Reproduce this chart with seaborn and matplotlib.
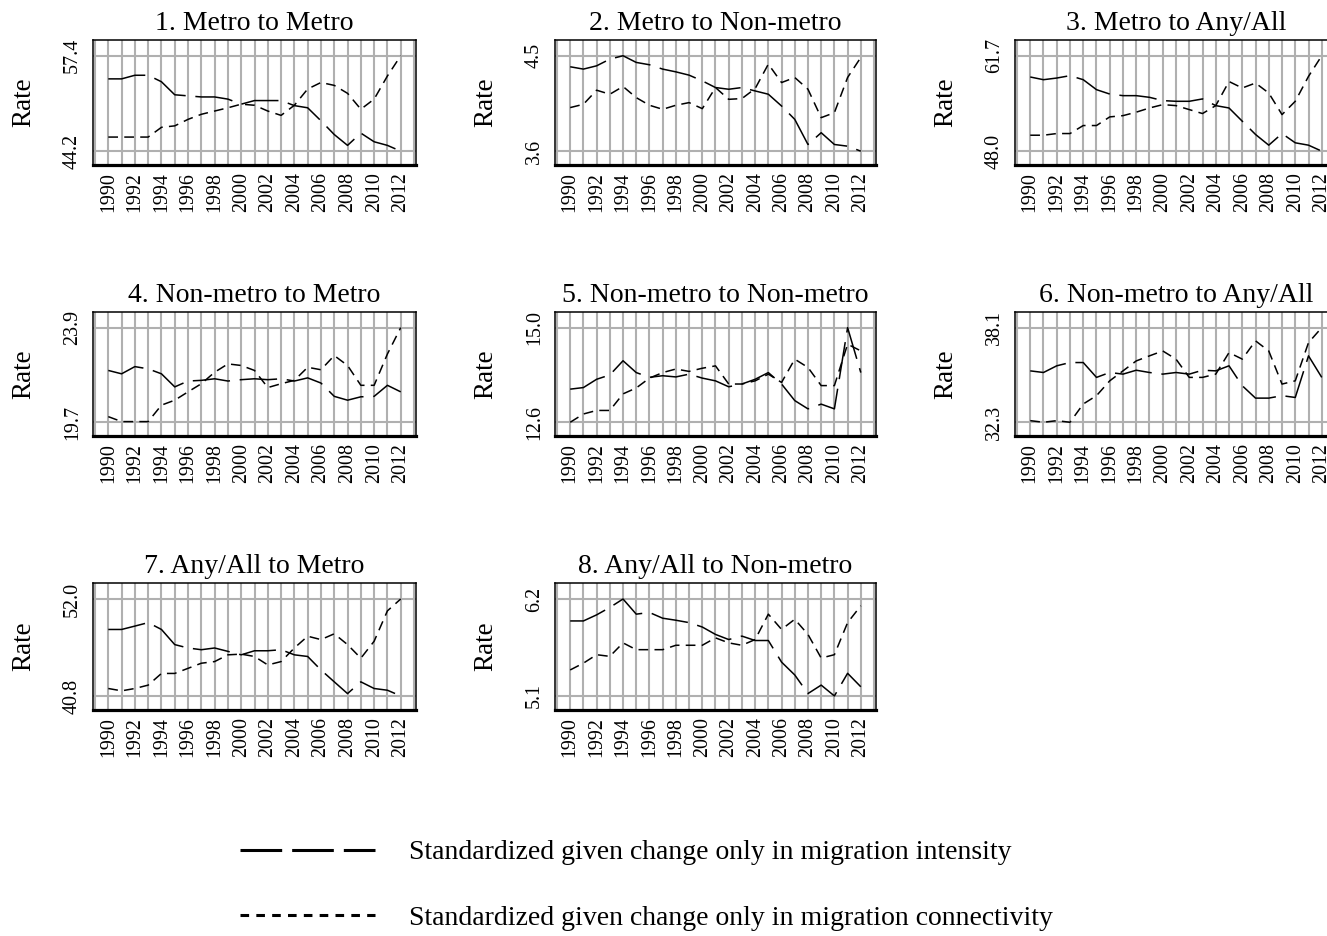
import numpy as np
import pandas as pd
import matplotlib
matplotlib.use("Agg")
import matplotlib.pyplot as plt
from matplotlib.lines import Line2D
from matplotlib.ticker import MultipleLocator, FixedLocator
import seaborn as sns

# ---------------- data ----------------
years = list(range(1990, 2013))
xtick_years = list(range(1990, 2013, 2))

titles = ["1. Metro to Metro", "2. Metro to Non-metro", "3. Metro to Any/All",
          "4. Non-metro to Metro", "5. Non-metro to Non-metro", "6. Non-metro to Any/All",
          "7. Any/All to Metro", "8. Any/All to Non-metro"]

ytick_lo = [44.2, 3.6, 48.0, 19.7, 12.6, 32.3, 40.8, 5.1]
ytick_hi = [57.4, 4.5, 61.7, 23.9, 15.0, 38.1, 52.0, 6.2]

intensity_1 = [54.2, 54.2, 54.7, 54.7, 53.8, 52.0, 51.85, 51.7, 51.7, 51.4, 50.7, 51.2,
               51.2, 51.2, 50.5, 50.2, 48.4, 46.5, 45.0, 46.7, 45.5, 45.0, 44.2]
connectivity_1 = [46.15, 46.15, 46.15, 46.15, 47.5, 47.7, 48.6, 49.3, 49.75, 50.2, 50.7, 50.55,
                  49.75, 49.15, 50.55, 52.8, 53.7, 53.3, 52.2, 50.0, 51.4, 54.6, 57.4]

intensity_2 = [4.396, 4.374, 4.405, 4.468, 4.50, 4.437, 4.415, 4.374, 4.348, 4.317, 4.263, 4.20,
               4.184, 4.20, 4.168, 4.137, 4.026, 3.90, 3.663, 3.774, 3.663, 3.647, 3.60]
connectivity_2 = [4.011, 4.042, 4.175, 4.137, 4.21, 4.105, 4.033, 3.995, 4.033, 4.058, 4.001, 4.20,
                  4.089, 4.096, 4.19, 4.421, 4.247, 4.295, 4.184, 3.916, 3.963, 4.295, 4.484]

intensity_3 = [58.65, 58.26, 58.5, 58.84, 58.26, 56.83, 56.2, 55.97, 55.97, 55.73, 55.26, 55.16,
               55.16, 55.5, 54.54, 54.2, 52.3, 50.4, 48.86, 50.53, 49.2, 48.86, 48.0]
connectivity_3 = [50.29, 50.29, 50.53, 50.53, 51.68, 51.68, 52.92, 53.1, 53.6, 54.2, 54.68, 54.54,
                  53.97, 53.4, 54.54, 58.0, 57.07, 57.78, 56.35, 53.25, 55.16, 58.74, 61.7]

intensity_4 = [22.0, 21.85, 22.17, 22.07, 21.85, 21.27, 21.53, 21.56, 21.63, 21.53, 21.59, 21.63,
               21.59, 21.63, 21.53, 21.67, 21.44, 20.85, 20.68, 20.83, 20.85, 21.34, 21.05]
connectivity_4 = [19.95, 19.73, 19.73, 19.73, 20.46, 20.68, 21.05, 21.41, 21.92, 22.29, 22.22, 22.0,
                  21.24, 21.41, 21.56, 22.14, 22.03, 22.66, 22.22, 21.34, 21.34, 22.73, 23.9]

intensity_5 = [13.44, 13.48, 13.69, 13.8, 14.16, 13.86, 13.74, 13.78, 13.75, 13.82, 13.72, 13.65,
               13.5, 13.57, 13.69, 13.86, 13.57, 13.15, 12.94, 13.06, 12.94, 15.0, 13.86]
connectivity_5 = [12.6, 12.81, 12.9, 12.9, 13.32, 13.47, 13.72, 13.86, 13.95, 13.89, 13.97, 14.03,
                  13.57, 13.57, 13.65, 13.82, 13.61, 14.2, 13.99, 13.53, 13.53, 14.58, 14.41]

intensity_6 = [35.45, 35.35, 35.76, 35.96, 35.96, 35.05, 35.35, 35.25, 35.49, 35.35, 35.25, 35.35,
               35.25, 35.49, 35.45, 35.76, 34.54, 33.78, 33.78, 33.93, 33.82, 36.37, 35.05]
connectivity_6 = [32.4, 32.3, 32.4, 32.3, 33.42, 33.93, 34.84, 35.45, 36.06, 36.37, 36.67, 36.17,
                  35.05, 35.05, 35.25, 36.57, 36.17, 37.29, 36.67, 34.64, 34.84, 37.18, 38.1]

intensity_7 = [48.48, 48.48, 48.87, 49.27, 48.48, 46.73, 46.34, 46.14, 46.34, 45.95, 45.55, 46.02,
               46.02, 46.14, 45.55, 45.36, 43.8, 42.43, 41.07, 42.43, 41.66, 41.46, 40.8]
connectivity_7 = [41.66, 41.39, 41.66, 42.05, 43.4, 43.4, 43.99, 44.58, 44.77, 45.55, 45.63, 45.36,
                  44.38, 44.77, 46.34, 47.7, 47.31, 47.98, 46.73, 45.16, 47.12, 50.63, 52.0]

intensity_8 = [5.951, 5.951, 6.02, 6.104, 6.2, 6.028, 6.047, 5.982, 5.959, 5.932, 5.882, 5.798,
               5.74, 5.779, 5.729, 5.729, 5.484, 5.338, 5.127, 5.223, 5.1, 5.357, 5.204]
connectivity_8 = [5.395, 5.472, 5.568, 5.549, 5.702, 5.625, 5.625, 5.625, 5.675, 5.675, 5.675, 5.759,
                  5.702, 5.675, 5.74, 6.028, 5.855, 5.97, 5.798, 5.53, 5.568, 5.932, 6.123]

intensity = [intensity_1, intensity_2, intensity_3, intensity_4,
             intensity_5, intensity_6, intensity_7, intensity_8]
connectivity = [connectivity_1, connectivity_2, connectivity_3, connectivity_4,
                connectivity_5, connectivity_6, connectivity_7, connectivity_8]

legend_labels = ["Standardized given change only in migration intensity",
                 "Standardized given change only in migration connectivity"]

# ---------------- style ----------------
sns.set_style("white")
plt.rcParams["font.family"] = ["Liberation Serif", "DejaVu Serif"]
plt.rcParams["lines.scale_dashes"] = False
for key in ["text.color", "axes.labelcolor", "xtick.color", "ytick.color"]:
    plt.rcParams[key] = "black"

W, H = 1327, 936
fig = plt.figure(figsize=(W / 100, H / 100), dpi=100)

col_left = [93, 555, 1015]
col_width = [323, 321, 322]
row_top = [40, 312, 583]
row_height = [125, 124, 127]

LONG = (27, 7)
SHORT = (7, 4.5)
GRID = "#b0b0b0"

for i in range(8):
    r, c = divmod(i, 3)
    L, T, Wd, Ht = col_left[c], row_top[r], col_width[c], row_height[r]
    ax = fig.add_axes([L / W, 1 - (T + Ht) / H, Wd / W, Ht / H])
    df = pd.DataFrame({
        "year": years * 2,
        "rate": intensity[i] + connectivity[i],
        "series": ["intensity"] * len(years) + ["connectivity"] * len(years),
    })
    sns.lineplot(data=df, x="year", y="rate", style="series",
                 dashes={"intensity": LONG, "connectivity": SHORT},
                 color="black", linewidth=1.1, ax=ax, legend=False,
                 estimator=None, sort=False)
    lo, hi = ytick_lo[i], ytick_hi[i]
    rng = hi - lo
    ax.set_ylim(lo - 0.145 * rng, hi + 0.165 * rng)
    ax.set_xlim(1988.85, 2013.15)
    ax.xaxis.set_major_locator(FixedLocator(xtick_years))
    ax.xaxis.set_minor_locator(MultipleLocator(1))
    ax.set_xticklabels([str(y) for y in xtick_years], rotation=90)
    ax.yaxis.set_major_locator(FixedLocator([lo, hi]))
    ax.set_yticklabels([f"{lo:.1f}", f"{hi:.1f}"], rotation=90, va="center")
    ax.set_axisbelow(True)
    ax.grid(True, which="both", axis="x", color=GRID, linewidth=1.5)
    ax.grid(True, which="major", axis="y", color=GRID, linewidth=1.5)
    ax.tick_params(axis="both", which="both", length=0, labelsize=14.4)
    ax.tick_params(axis="x", pad=5)
    ax.tick_params(axis="y", pad=8)
    for side in ["left", "right", "top"]:
        ax.spines[side].set_color("black")
        ax.spines[side].set_linewidth(1.1)
        ax.spines[side].set_visible(True)
    ax.spines["bottom"].set_color("black")
    ax.spines["bottom"].set_linewidth(2.3)
    ax.set_xlabel("")
    ax.set_ylabel("Rate", fontsize=19.5)
    ax.yaxis.set_label_coords(-0.215, 0.5)
    ax.yaxis.label.set_va("center")
    ax.set_title(titles[i], fontsize=20, pad=7)

# ---------------- legend ----------------
h1 = Line2D([], [], color="black", linewidth=2.2, dashes=(30, 7.2))
h2 = Line2D([], [], color="black", linewidth=2.2, dashes=(6.2, 5.2))
fig.legend([h1, h2], legend_labels, loc="upper left",
           bbox_to_anchor=(240 / W, 1 - 840 / H), frameon=False,
           fontsize=20, handlelength=4.85, handletextpad=1.25, labelspacing=1.45,
           borderaxespad=0, borderpad=0)

fig.savefig("out.png", dpi=100)
